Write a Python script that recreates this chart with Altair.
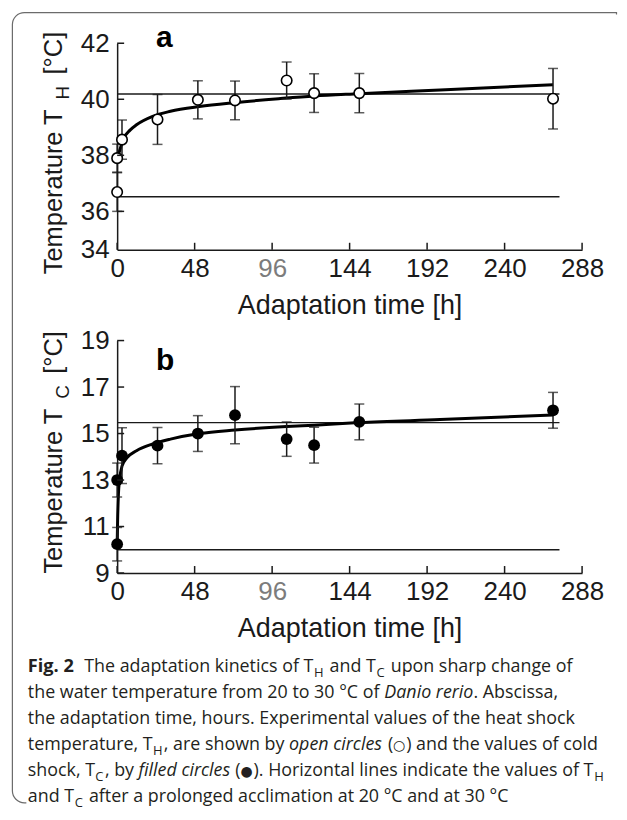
import altair as alt
import pandas as pd

# ---------------- data ----------------
HOURS_H = [0, 0, 3, 25, 50, 73, 105, 122, 150, 270]
TH_MEAN = [36.69, 37.9, 38.56, 39.28, 39.98, 39.96, 40.67, 40.22, 40.22, 40.02]
TH_ERR = [0.69, 0.5, 0.7, 0.89, 0.68, 0.69, 0.66, 0.69, 0.70, 1.08]

HOURS_C = [0, 0, 3, 25, 50, 73, 105, 122, 150, 270]
TC_MEAN = [10.24, 13.0, 14.05, 14.48, 15.0, 15.79, 14.76, 14.5, 15.5, 16.0]
TC_ERR = [0.72, 0.73, 1.2, 0.78, 0.77, 1.23, 0.74, 0.77, 0.77, 0.77]

FIT_H_T = [0, 1.4, 4, 8, 12, 22, 33, 51, 73, 100, 122, 150, 200, 270]
FIT_H_V = [37.9, 38.14, 38.6, 38.9, 39.09, 39.39, 39.57, 39.74, 39.88, 40.02, 40.12, 40.2, 40.33, 40.52]

FIT_C_T = [0, 0.3, 0.8, 1.5, 3, 6, 12, 22, 33, 51, 73, 105, 122, 150, 200, 270]
FIT_C_V = [10.2, 11.3, 12.4, 13.0, 13.6, 13.95, 14.26, 14.55, 14.76, 15.0, 15.15, 15.3, 15.36, 15.47, 15.6, 15.8]

REF_H = [40.19, 36.52]
REF_C = [15.47, 10.0]
REF_END = 274

X_TICKS = [0, 48, 96, 144, 192, 240, 288]
TOP_Y_TICKS = [36, 38, 40, 42]
TOP_Y_FLOOR = 34.63
BOT_Y_TICKS = [9, 11, 13, 15, 17, 19]

X_TITLE = "Adaptation time [h]"
TITLE_H = ["Temperature T", "H", "[°C]"]
TITLE_C = ["Temperature T", "C", "[°C]"]

# caption: each line is a list of (text, style, space_before)
CAPTION_LINES = [
    [("Fig. 2", "bold", False), ("The adaptation kinetics of T", "reg", "wide"), ("H", "sub", False),
     ("and T", "reg", True), ("C", "sub", False), ("upon sharp change of", "reg", True)],
    [("the water temperature from 20 to 30 °C of", "reg", False), ("Danio rerio", "ital", True),
     (". Abscissa,", "reg", False)],
    [("the adaptation time, hours. Experimental values of the heat shock", "reg", False)],
    [("temperature, T", "reg", False), ("H", "sub", False), (", are shown by", "reg", False),
     ("open circles", "ital", True), ("(", "reg", True), ("○", "sym", False),
     (") and the values of cold", "reg", False)],
    [("shock, T", "reg", False), ("C", "sub", False), (", by", "reg", False),
     ("filled circles", "ital", True), ("(", "reg", True), ("●", "sym", False),
     ("). Horizontal lines indicate the values of T", "reg", False), ("H", "sub", False)],
    [("and T", "reg", False), ("C", "sub", False),
     ("after a prolonged acclimation at 20 °C and at 30 °C", "reg", True)],
]
CAPTION_BASELINES = [672.3, 698.3, 724.2, 750.1, 776.0, 801.8]
CAPTION_LEFT = 27.5

# ---------------- layout (page pixels) ----------------
PLOT_LEFT = 117
TOP_Y0 = 41.7
W = 466
H1 = 207
H2 = 233
GAP = 91
BOT_Y0 = TOP_Y0 + H1 + GAP
CAP_Y0 = BOT_Y0 + H2 + GAP
INK = "#1a1a1a"
FONT = "Liberation Sans"
CAP_FONT = "Open Sans"
CAP_SIZE = 17.9
SUB_SIZE = 13
SYM_SIZE = 14
FRAME = "#6b6b6b"

# approximate Open Sans advance widths (em) used to chain caption segments
OS_W = {' ': .26, 'a': .556, 'b': .613, 'c': .476, 'd': .613, 'e': .561, 'f': .339, 'g': .548,
        'h': .614, 'i': .253, 'j': .253, 'k': .525, 'l': .253, 'm': .930, 'n': .614, 'o': .604,
        'p': .613, 'q': .613, 'r': .408, 's': .477, 't': .353, 'u': .614, 'v': .501, 'w': .778,
        'x': .524, 'y': .502, 'z': .470, 'A': .633, 'D': .729, 'E': .556, 'F': .516, 'H': .738,
        'C': .633, 'T': .546, '.': .266, ',': .243, '(': .282, ')': .282, '°': .418}


def text_w(s, size, style):
    if style == "sym":
        return 0.945 * size
    w = sum(OS_W.get(ch, .572) for ch in s) * size
    if style == "bold":
        w *= 1.07
    elif style == "ital":
        w *= 0.95
    return w


def panel(hours, mean, err, fit_t, fit_v, refs, ydomain, yticks, yvalues,
          label_expr, filled, letter, letter_xy, title, title_y, height, y0):
    pts = pd.DataFrame({"t": hours, "v": mean,
                        "lo": [m - e for m, e in zip(mean, err)],
                        "hi": [m + e for m, e in zip(mean, err)]})
    fit = pd.DataFrame({"t": fit_t, "v": fit_v})
    ref = pd.DataFrame({"t": [0] * len(refs), "t2": [REF_END] * len(refs), "v": refs})
    xt = pd.DataFrame({"t": X_TICKS})
    yt = pd.DataFrame({"v": yticks})

    xs = alt.Scale(domain=[0, 288], nice=False, zero=False)
    ys = alt.Scale(domain=ydomain, nice=False, zero=False)
    xaxis = alt.Axis(values=X_TICKS, title=X_TITLE, grid=False, ticks=False, tickSize=0,
                     labelPadding=6, labelFlush=False, labelOverlap=False,
                     labelColor={"condition": {"test": "datum.value == 96", "value": "#7c7c7c"},
                                 "value": INK},
                     titleY=64, titleBaseline="alphabetic")
    yaxis = alt.Axis(values=yvalues, title=None, grid=False, ticks=False, tickSize=0,
                     labelPadding=8, labelFlush=False, labelOverlap=False,
                     labelExpr=label_expr)
    X = lambda f: alt.X(f, scale=xs, axis=xaxis)
    Y = lambda f: alt.Y(f, scale=ys, axis=yaxis)

    layers = []
    layers.append(alt.Chart(ref).mark_rule(color=INK, strokeWidth=1.4).encode(
        x=X("t:Q"), x2="t2:Q", y=Y("v:Q")))
    layers.append(alt.Chart(fit).mark_line(color="#000", strokeWidth=3, interpolate="monotone").encode(
        x=X("t:Q"), y=Y("v:Q")))
    layers.append(alt.Chart(pts).mark_rule(color=INK, strokeWidth=1.5).encode(
        x=X("t:Q"), y=Y("lo:Q"), y2="hi:Q"))
    for f in ["lo", "hi"]:
        layers.append(alt.Chart(pts).mark_tick(color=INK, orient="horizontal", size=10, thickness=1.5).encode(
            x=X("t:Q"), y=Y(f + ":Q")))
    if filled:
        layers.append(alt.Chart(pts).mark_point(shape="circle", filled=True, color="#000", size=140, opacity=1).encode(
            x=X("t:Q"), y=Y("v:Q")))
    else:
        layers.append(alt.Chart(pts).mark_point(shape="circle", fill="white", stroke="#000", strokeWidth=1.6,
                                                size=110, opacity=1, fillOpacity=1).encode(
            x=X("t:Q"), y=Y("v:Q")))
    # inward tick marks
    layers.append(alt.Chart(xt).mark_rule(color=INK, strokeWidth=1.5).encode(
        x=X("t:Q"), y=alt.value(height), y2=alt.value(height - 7)))
    layers.append(alt.Chart(yt).mark_rule(color=INK, strokeWidth=1.5).encode(
        y=Y("v:Q"), x=alt.value(0), x2=alt.value(7)))
    # panel letter
    one = pd.DataFrame({"k": [0]})
    layers.append(alt.Chart(one).mark_text(text=letter, font=FONT, fontSize=30, fontWeight="bold",
                                           align="left", baseline="alphabetic", color="#000").encode(
        x=alt.value(letter_xy[0]), y=alt.value(letter_xy[1])))
    # rotated y title with subscript
    specs = [(title[0], 62, title_y[0] - y0, 25.5), (title[1], 68.5, title_y[1] - y0, 19),
             (title[2], 62, title_y[2] - y0, 25.5)]
    for txt, px, py, fs in specs:
        layers.append(alt.Chart(one).mark_text(text=txt, font=FONT, fontSize=fs, angle=270,
                                               align="left", baseline="alphabetic", color=INK).encode(
            x=alt.value(px - PLOT_LEFT), y=alt.value(py)))
    return alt.layer(*layers).properties(width=W, height=height)


top = panel(HOURS_H, TH_MEAN, TH_ERR, FIT_H_T, FIT_H_V, REF_H, [TOP_Y_FLOOR, 42], TOP_Y_TICKS,
            [TOP_Y_FLOOR] + TOP_Y_TICKS, "datum.value < 35 ? '34' : datum.label",
            False, "a", (39, 45 - TOP_Y0), TITLE_H, [273.3, 98, 73], H1, TOP_Y0)
bottom = panel(HOURS_C, TC_MEAN, TC_ERR, FIT_C_T, FIT_C_V, REF_C, [9, 19], BOT_Y_TICKS,
               BOT_Y_TICKS, "datum.label",
               True, "b", (39, 369.3 - BOT_Y0), TITLE_C, [573.3, 398, 373], H2, BOT_Y0)

# ---------------- caption (segments chained along each line) ----------------
SPACE = OS_W[' '] * CAP_SIZE
rows = []
for li, segs in enumerate(CAPTION_LINES):
    x = CAPTION_LEFT
    for txt, style, space in segs:
        if space == "wide":
            x += 2.2 * SPACE
        elif space:
            x += SPACE
        size = {"sub": SUB_SIZE, "sym": SYM_SIZE}.get(style, CAP_SIZE)
        by = CAPTION_BASELINES[li] + (5 if style == "sub" else 0)
        rows.append({"txt": txt, "style": style,
                     "px": x + (0.6 if style == "sub" else 0) - PLOT_LEFT, "py": by - CAP_Y0})
        x += text_w(txt, size, style) + (2.0 if style == "sub" else 0)
cap = pd.DataFrame(rows)

one = pd.DataFrame({"k": [0]})
cap_layers = []
# figure frame (rounded on the left; right and bottom edges run off the page in the original)
FR_L, FR_T, FR_R, FR_B = 12, 11, 617.5, 803
cap_layers.append(alt.Chart(one).mark_rect(filled=False, color=FRAME, strokeWidth=1.2,
                                           cornerRadiusTopLeft=12, cornerRadiusBottomLeft=12).encode(
    x=alt.value(FR_L - PLOT_LEFT), x2=alt.value(FR_R - PLOT_LEFT),
    y=alt.value(FR_T - CAP_Y0), y2=alt.value(FR_B - CAP_Y0)))
cap_layers.append(alt.Chart(one).mark_rule(color="white", strokeWidth=3).encode(
    x=alt.value(FR_R - PLOT_LEFT), y=alt.value(FR_T + 2 - CAP_Y0), y2=alt.value(FR_B + 2 - CAP_Y0)))
cap_layers.append(alt.Chart(one).mark_rule(color="white", strokeWidth=3).encode(
    y=alt.value(FR_B - CAP_Y0), x=alt.value(FR_L + 14 - PLOT_LEFT), x2=alt.value(FR_R + 1 - PLOT_LEFT)))

styles = {
    "reg": dict(font=CAP_FONT, fontSize=CAP_SIZE, fontWeight="normal", fontStyle="normal"),
    "bold": dict(font=CAP_FONT, fontSize=CAP_SIZE + 0.3, fontWeight="bold", fontStyle="normal"),
    "ital": dict(font=CAP_FONT, fontSize=CAP_SIZE, fontWeight="normal", fontStyle="italic"),
    "sub": dict(font=CAP_FONT, fontSize=SUB_SIZE, fontWeight="normal", fontStyle="normal"),
    "sym": dict(font="DejaVu Sans", fontSize=SYM_SIZE, fontWeight="normal", fontStyle="normal"),
}
for s, kw in styles.items():
    cap_layers.append(alt.Chart(cap[cap["style"] == s]).mark_text(
        align="left", baseline="alphabetic", color="#231f20", **kw).encode(
        x=alt.X("px:Q", scale=None, axis=None),
        y=alt.Y("py:Q", scale=None, axis=None),
        text="txt:N"))
caption = alt.layer(*cap_layers).properties(width=W, height=100)

chart = alt.vconcat(top, bottom, caption, spacing=GAP, bounds="flush").properties(
    padding={"left": 3.4, "top": 2.4, "right": 0, "bottom": 0},
    background="white",
).configure_view(stroke=None).configure_axis(
    labelFont=FONT, labelFontSize=26, labelColor=INK,
    titleFont=FONT, titleFontSize=27, titleFontWeight="normal", titleColor=INK,
    domainColor=INK, domainWidth=1.5,
)

chart.save("out.html", embed_options={"renderer": "svg", "actions": False})
